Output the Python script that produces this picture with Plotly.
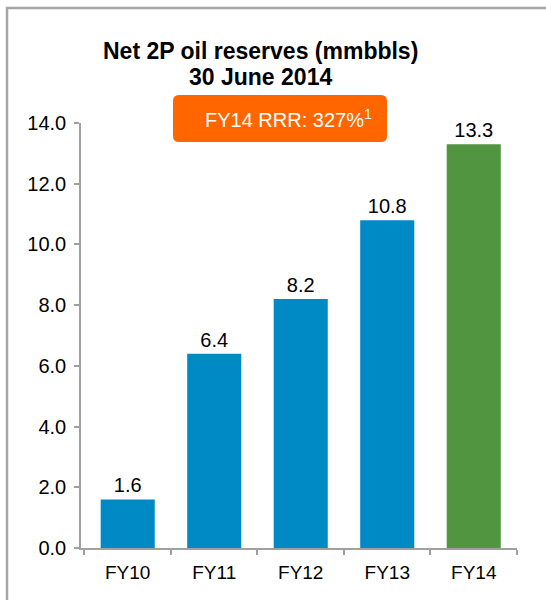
import plotly.graph_objects as go

categories = ["FY10", "FY11", "FY12", "FY13", "FY14"]
reserves = [1.6, 6.4, 8.2, 10.8, 13.3]
bar_colors = ["#008AC5", "#008AC5", "#008AC5", "#008AC5", "#529540"]
y_ticks = [0, 2, 4, 6, 8, 10, 12, 14]
title_lines = ["Net 2P oil reserves (mmbbls)", "30 June 2014"]
badge_text = "FY14 RRR: 327%<sup>1</sup>"

FONT = "Liberation Sans, Arial, sans-serif"
W, H = 546, 600
L, R, T, B = 81, 29, 123, 52
pw, ph = W - L - R, H - T - B

def px(x):
    return (x - L) / pw

def py(y):
    return (H - B - y) / ph

fig = go.Figure()
fig.add_trace(go.Bar(
    x=categories, y=reserves,
    marker=dict(color=bar_colors, line=dict(width=0)),
    width=0.625,
    text=[f"{v:.1f}" for v in reserves],
    textposition="outside",
    textfont=dict(size=20, color="#000000", family=FONT),
    cliponaxis=False,
))

# frame
fx, fy = px(7), py(8)
fig.add_shape(type="path", xref="paper", yref="paper",
              path=f"M {fx},{py(620)} L {fx},{fy} L {px(560)},{fy}",
              line=dict(color="#A6A6A6", width=2.5))

# orange rounded badge
x0, x1, y0, y1 = px(173), px(387), py(142), py(95)
rx, ry = 6 / pw, 6 / ph
path = (f"M {x0+rx},{y1} L {x1-rx},{y1} Q {x1},{y1} {x1},{y1-ry} "
        f"L {x1},{y0+ry} Q {x1},{y0} {x1-rx},{y0} L {x0+rx},{y0} "
        f"Q {x0},{y0} {x0},{y0+ry} L {x0},{y1-ry} Q {x0},{y1} {x0+rx},{y1} Z")
fig.add_shape(type="path", xref="paper", yref="paper", path=path,
              fillcolor="#FF6600", line=dict(width=0))
fig.add_annotation(xref="paper", yref="paper", x=px(288), y=py(119),
                   text=badge_text, showarrow=False,
                   font=dict(size=20, color="#FFFFFF", family=FONT),
                   xanchor="center", yanchor="middle")

fig.add_annotation(xref="paper", yref="paper", x=px(260), y=py(51),
                   text=f"<b>{title_lines[0]}</b>", showarrow=False,
                   font=dict(size=23, color="#000000", family=FONT),
                   xanchor="center", yanchor="middle")
fig.add_annotation(xref="paper", yref="paper", x=px(260), y=py(77),
                   text=f"<b>{title_lines[1]}</b>", showarrow=False,
                   font=dict(size=23, color="#000000", family=FONT),
                   xanchor="center", yanchor="middle")

fig.update_layout(
    width=W, height=H,
    margin=dict(l=L, r=R, t=T, b=B, autoexpand=False),
    paper_bgcolor="#FFFFFF", plot_bgcolor="#FFFFFF",
    showlegend=False,
    font=dict(family=FONT, color="#000000"),
)
fig.update_xaxes(
    type="category", range=[-0.54, 4.5], showgrid=False, zeroline=False,
    showline=True, linecolor="#A0A0A0", linewidth=1.5,
    ticks="outside", tickson="boundaries", ticklen=5, tickcolor="#A0A0A0", tickwidth=1.5,
    tickfont=dict(size=19, color="#000000"), ticklabelstandoff=6,
)
fig.update_yaxes(
    range=[0, 14], tickvals=y_ticks, ticktext=[f"{v:.1f}" for v in y_ticks],
    showgrid=False, zeroline=False,
    showline=True, linecolor="#A0A0A0", linewidth=1.5,
    ticks="outside", ticklen=5, tickcolor="#A0A0A0", tickwidth=1.5,
    tickfont=dict(size=20, color="#000000"), ticklabelstandoff=4,
)

fig.write_html("out.html", config={"displayModeBar": False},
               post_script="document.body.style.margin='0';document.body.style.overflow='hidden';")
